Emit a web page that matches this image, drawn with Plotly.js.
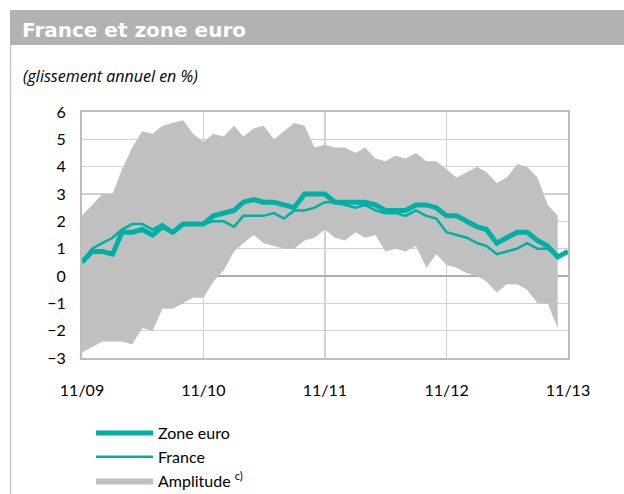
<!DOCTYPE html>
<html>
<head>
<meta charset="utf-8">
<script src="https://cdn.plot.ly/plotly-3.0.1.min.js"></script>
<style>
  html, body { margin: 0; padding: 0; background: #ffffff; }
  #chart { width: 624px; height: 494px; }
</style>
</head>
<body>
<div id="chart"></div>
<script>
// Months (Nov 2009 .. Nov 2013)
const months = [
  '2009-11','2009-12',
  '2010-01','2010-02','2010-03','2010-04','2010-05','2010-06','2010-07','2010-08','2010-09','2010-10','2010-11','2010-12',
  '2011-01','2011-02','2011-03','2011-04','2011-05','2011-06','2011-07','2011-08','2011-09','2011-10','2011-11','2011-12',
  '2012-01','2012-02','2012-03','2012-04','2012-05','2012-06','2012-07','2012-08','2012-09','2012-10','2012-11','2012-12',
  '2013-01','2013-02','2013-03','2013-04','2013-05','2013-06','2013-07','2013-08','2013-09','2013-10','2013-11'
];

// Zone euro (thick line)
const zoneEuro = [
  0.5, 0.9,
  0.9, 0.8, 1.6, 1.6, 1.7, 1.5, 1.8, 1.6, 1.9, 1.9, 1.9, 2.2,
  2.3, 2.4, 2.7, 2.8, 2.7, 2.7, 2.6, 2.5, 3.0, 3.0, 3.0, 2.7,
  2.7, 2.7, 2.7, 2.6, 2.4, 2.4, 2.4, 2.6, 2.6, 2.5, 2.2, 2.2,
  2.0, 1.8, 1.7, 1.2, 1.4, 1.6, 1.6, 1.3, 1.1, 0.7, 0.9
];

// France (thin line)
const france = [
  0.5, 1.0,
  1.2, 1.4, 1.7, 1.9, 1.9, 1.7, 1.9, 1.6, 1.9, 1.9, 1.9, 2.0,
  2.0, 1.8, 2.2, 2.2, 2.2, 2.3, 2.1, 2.4, 2.4, 2.5, 2.7, 2.7,
  2.6, 2.5, 2.6, 2.4, 2.3, 2.3, 2.2, 2.4, 2.2, 2.1, 1.6, 1.5,
  1.4, 1.2, 1.1, 0.8, 0.9, 1.0, 1.2, 1.0, 1.0, 0.7, null
];

// Amplitude (max / min among euro-area countries)
const ampMax = [
  2.2, 2.6,
  3.0, 3.0, 3.9, 4.7, 5.3, 5.2, 5.5, 5.6, 5.7, 5.2, 4.9, 5.2,
  5.1, 5.5, 5.1, 5.4, 5.5, 5.0, 5.3, 5.6, 5.5, 4.7, 4.8, 4.7,
  4.7, 4.5, 4.7, 4.3, 4.2, 4.4, 4.3, 4.5, 4.2, 4.2, 3.9, 3.6,
  3.8, 4.0, 3.8, 3.4, 3.6, 4.1, 4.0, 3.6, 2.6, 2.2
];
const ampMin = [
  -2.8, -2.6,
  -2.4, -2.4, -2.4, -2.5, -1.9, -2.0, -1.2, -1.2, -1.0, -0.8, -0.8, -0.2,
  0.2, 0.9, 1.2, 1.5, 1.2, 1.1, 1.0, 1.0, 1.3, 1.4, 1.7, 1.4,
  1.3, 1.6, 1.4, 1.5, 0.9, 1.0, 0.9, 1.1, 0.3, 0.8, 0.4, 0.3,
  0.1, 0.0, -0.2, -0.6, -0.3, -0.3, -0.5, -1.0, -1.0, -1.9
];

const xTickVals = ['2009-11-01','2010-11-01','2011-11-01','2012-11-01','2013-11-01'];
const xTickText = ['11/09','11/10','11/11','11/12','11/13'];
const yTickVals = [-3,-2,-1,0,1,2,3,4,5,6];

const TEAL = '#00AFA6';
const GREY = '#C0C0C0';
const FONT = 'Lato, "Open Sans", "DejaVu Sans", sans-serif';

const ampMonths = months.slice(0, ampMax.length);

const traces = [
  {
    x: ampMonths, y: ampMin, type: 'scatter', mode: 'lines',
    line: {width: 0, color: GREY}, showlegend: false, hoverinfo: 'skip'
  },
  {
    x: ampMonths, y: ampMax, type: 'scatter', mode: 'lines',
    line: {width: 0, color: GREY}, fill: 'tonexty', fillcolor: GREY,
    name: 'Amplitude <sup>c)</sup>', legendrank: 3
  },
  {
    x: months, y: france, type: 'scatter', mode: 'lines',
    line: {width: 2.5, color: TEAL}, name: 'France', legendrank: 2
  },
  {
    x: months, y: zoneEuro, type: 'scatter', mode: 'lines',
    line: {width: 5, color: TEAL}, name: 'Zone euro', legendrank: 1
  }
];

const W = 486, H = 246, L = 82, T = 112;
const px = v => (v - L) / W;
const py = v => (T + H - v) / H;

const layout = {
  width: 624, height: 494,
  margin: {l: L, r: 624 - L - W, t: T, b: 494 - T - H, pad: 0, autoexpand: false},
  paper_bgcolor: '#ffffff', plot_bgcolor: '#ffffff',
  font: {family: FONT, size: 16, color: '#000'},
  title: {
    text: '<b>France et zone euro</b>',
    font: {family: '"DejaVu Sans", sans-serif', size: 20, color: '#ffffff'},
    x: 22 / 624, xanchor: 'left', xref: 'container',
    y: 1 - 30 / 494, yanchor: 'middle', yref: 'container'
  },
  xaxis: {
    type: 'date',
    range: ['2009-11-01', '2013-11-01'],
    tickvals: xTickVals, ticktext: xTickText,
    showgrid: true, gridcolor: '#D0D0D0', gridwidth: 1.5,
    showline: true, linecolor: '#BDBDBD', linewidth: 2, mirror: true,
    zeroline: false, ticks: '', ticklabelstandoff: 17,
    tickfont: {family: FONT, size: 16, color: '#000'},
    automargin: false, fixedrange: true
  },
  yaxis: {
    range: [-3, 6], tickvals: yTickVals,
    showgrid: true, gridcolor: '#D0D0D0', gridwidth: 1.5,
    zeroline: true, zerolinecolor: '#ABABAB', zerolinewidth: 2,
    showline: true, linecolor: '#BDBDBD', linewidth: 2, mirror: true,
    ticks: '', ticklabelstandoff: 11,
    tickfont: {family: FONT, size: 16, color: '#000'},
    automargin: false, fixedrange: true
  },
  legend: {
    xref: 'container', yref: 'container',
    x: 91 / 624, xanchor: 'left', y: 1 - 416 / 494, yanchor: 'top',
    bgcolor: 'rgba(0,0,0,0)', borderwidth: 0,
    font: {family: FONT, size: 16, color: '#000'},
    itemwidth: 57, tracegroupgap: 0, traceorder: 'normal'
  },
  shapes: [
    {type: 'rect', xref: 'paper', yref: 'paper', layer: 'below',
     x0: px(10), x1: px(624), y0: py(45), y1: py(10),
     fillcolor: '#B2B2B2', line: {width: 0}},
    {type: 'line', xref: 'paper', yref: 'paper', layer: 'below',
     x0: px(10.5), x1: px(10.5), y0: py(45), y1: py(494),
     line: {color: '#C8C8C8', width: 1.5}}
  ],
  annotations: [
    {text: '<i>(glissement annuel en %)</i>', xref: 'paper', yref: 'paper',
     x: px(21), y: py(76), xanchor: 'left', yanchor: 'middle', showarrow: false,
     font: {family: '"Open Sans", sans-serif', size: 16, color: '#000'}}
  ]
};

Plotly.newPlot('chart', traces, layout, {displayModeBar: false, staticPlot: true});
</script>
</body>
</html>
